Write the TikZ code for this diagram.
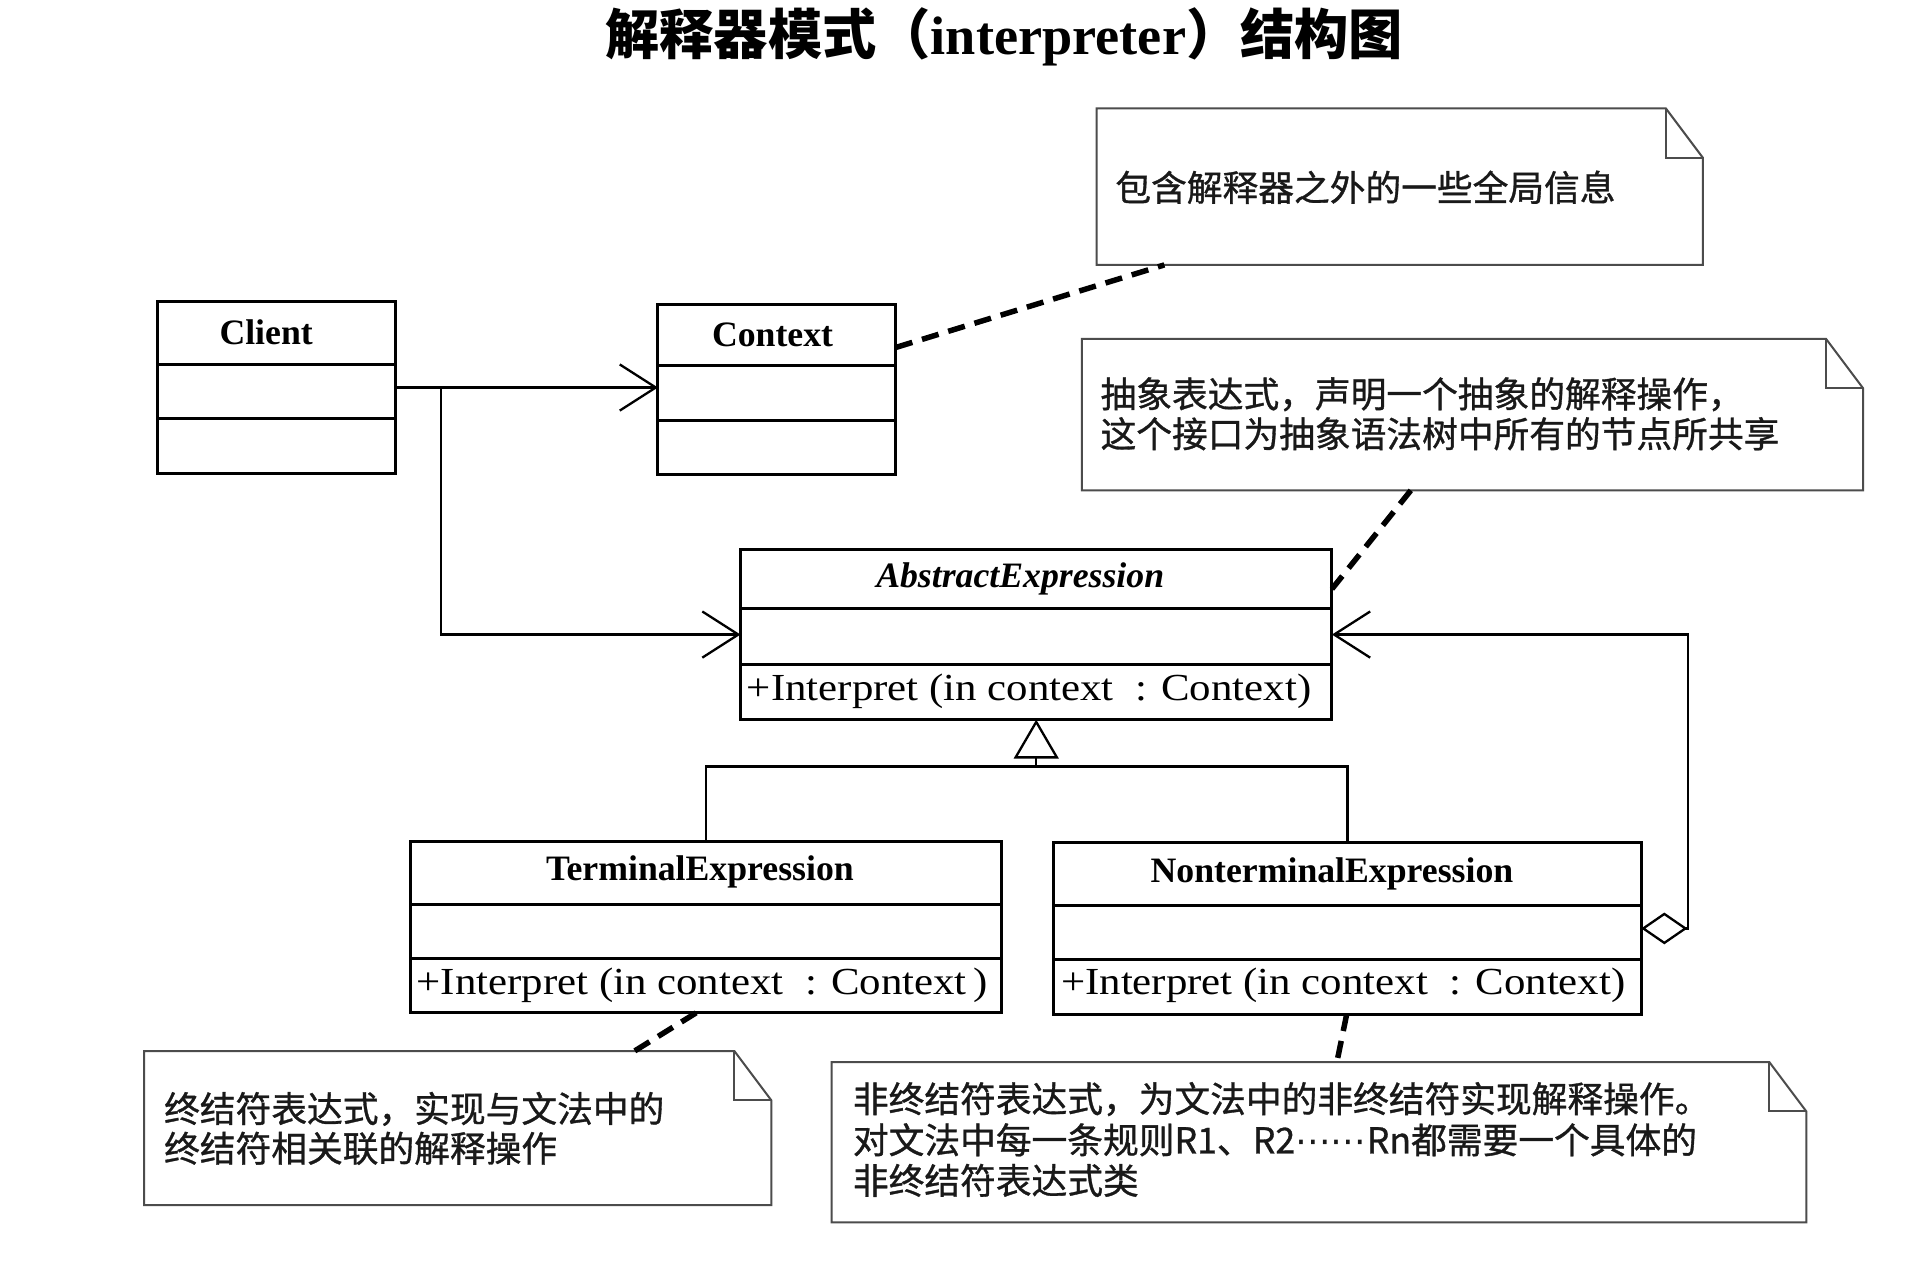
\documentclass[tikz,border=0pt]{standalone}
\usepackage{fontspec}
\usetikzlibrary{arrows.meta,calc,fit}
\setmainfont{Liberation Serif}
\newfontfamily\cjk{Noto Sans CJK SC}
\newfontfamily\cjknote[FakeBold=0.9]{Noto Sans CJK SC}
\newfontfamily\dotsfont{DejaVu Sans}
\newfontfamily\opfont[FakeStretch=1.12]{Liberation Serif}

\tikzset{
  classbox/.style={draw=black, line width=2.1pt, inner sep=0pt, outer sep=0pt},
  notebox/.style={inner sep=0pt, outer sep=0pt},
  divider/.style={draw=black, line width=2.1pt},
  noteline/.style={draw=black!70, line width=1.4pt, line join=miter},
  cname/.style={inner sep=0pt, font=\fontsize{24.75pt}{27pt}\selectfont\bfseries},
  opname/.style={inner sep=0pt, anchor=west, font=\opfont\fontsize{26.5pt}{30pt}\selectfont},
  notetext/.style={inner sep=0pt, anchor=west, text=black!90, font=\cjknote\fontsize{24.75pt}{27pt}\selectfont},
  assoc/.style={draw=black, line width=1.6pt, -{Straight Barb[length=25pt, width=32pt, line width=1.6pt]}},
  gen/.style={draw=black, line width=1.6pt, -{Triangle[open, length=27pt, width=31pt, line width=1.6pt]}},
  aggr/.style={draw=black, line width=1.6pt,
    {Diamond[open, length=32pt, width=22pt, line width=1.6pt]}-{Straight Barb[length=25pt, width=32pt, line width=1.6pt]}},
  plainline/.style={draw=black, line width=1.6pt},
  anchorline/.style={draw=black, line width=3.8pt, dash pattern=on 12pt off 7pt},
}

% two compartment separators below the class name
\newcommand\classdividers[3]{%
  \draw[divider] ($(#1.north west)+(0,#2)$) -- ($(#1.north east)+(0,#2)$);
  \draw[divider] ($(#1.north west)+(0,#3)$) -- ($(#1.north east)+(0,#3)$);
}
% note outline with a folded top-right corner
\newcommand\noteoutline[1]{%
  \draw[noteline] (#1.south west) -- (#1.north west) -- ($(#1.north east)+(-30,0)$)
    -- ($(#1.north east)+(0,40)$) -- (#1.south east) -- cycle;
  \draw[noteline] ($(#1.north east)+(-30,0)$) -- ($(#1.north east)+(-30,40)$)
    -- ($(#1.north east)+(0,40)$);
}

\begin{document}
\begin{tikzpicture}[x=0.3mm, y=-0.3mm]
\useasboundingbox[fill=white] (0,0) rectangle (1568,1032);

% title
\node[inner sep=0pt, font=\fontsize{37.6pt}{40pt}\selectfont] (title) at (815,30)
  {{\cjk\bfseries 解释器模式（}{\bfseries interpreter}{\cjk\bfseries ）结构图}};

% classes
\node[classbox, fit={(128,245) (321,384)}] (client) {};
\classdividers{client}{51}{95}
\node[cname] (clientname) at (216,270) {Client};

\node[classbox, fit={(534,247) (727,385)}] (ctx) {};
\classdividers{ctx}{50}{94}
\node[cname] (ctxname) at (627,272) {Context};

\node[classbox, fit={(601,446) (1081,584)}] (ae) {};
\classdividers{ae}{48}{93}
\node[cname, font=\fontsize{24.75pt}{27pt}\selectfont\bfseries\itshape] (aename) at (828,470) {AbstractExpression};
\node[opname] (aeop) at (606,561) {+Interpret (in context~~: Context)};

\node[classbox, fit={(333,683) (813,822)}] (te) {};
\classdividers{te}{51}{95}
\node[cname] (tename) at (568,708) {TerminalExpression};
\node[opname] (teop) at (338,800) {+Interpret (in context~~: Context\,)};

\node[classbox, fit={(855,684) (1332,823)}] (nt) {};
\classdividers{nt}{51}{95}
\node[cname] (ntname) at (1081,709) {NonterminalExpression};
\node[opname] (ntop) at (861,800) {+Interpret (in context~~: Context)};

% notes
\node[notebox, fit={(890,88) (1382,215)}] (note1) {};
\noteoutline{note1}
\node[notetext] (note1a) at (905,152) {包含解释器之外的一些全局信息};

\node[notebox, fit={(878,275) (1512,398)}] (note2) {};
\noteoutline{note2}
\node[notetext] (note2a) at (893,320) {抽象表达式，声明一个抽象的解释操作，};
\node[notetext] (note2b) at (893,352) {这个接口为抽象语法树中所有的节点所共享};

\node[notebox, fit={(117,853) (626,978)}] (note3) {};
\noteoutline{note3}
\node[notetext] (note3a) at (133,900) {终结符表达式，实现与文法中的};
\node[notetext] (note3b) at (133,932) {终结符相关联的解释操作};

\node[notebox, fit={(675,862) (1466,992)}] (note4) {};
\noteoutline{note4}
\node[notetext] (note4a) at (692,892) {非终结符表达式，为文法中的非终结符实现解释操作。};
\node[notetext] (note4b) at (692,925) {对文法中每一条规则R1、R2{\dotsfont ⋯⋯}Rn都需要一个具体的};
\node[notetext] (note4c) at (692,958) {非终结符表达式类};

% associations
\draw[assoc] (client.east) -- (client.east -| ctx.west);
\draw[assoc] ($(client.east)+(37,0)$) |- (ae.west);
\draw[aggr] (nt.east) -- ++(38,0) |- (ae.east);

% generalization
\coordinate (join) at ($(ae.south)+(0,38)$);
\draw[plainline] (te.north) |- (join) -| (nt.north);
\draw[gen] (join) -- (ae.south);

% note anchors
\draw[anchorline] ($(ctx.north east)+(0,35)$) -- ($(note1.south west)+(55,0)$);
\draw[anchorline] ($(note2.south west)+(267,0)$) -- ($(ae.north east)+(0,32)$);
\draw[anchorline] ($(te.south west)+(232,0)$) -- ($(note3.north west)+(398,0)$);
\draw[anchorline] ($(nt.south west)+(238,0)$) -- ($(note4.north west)+(410,0)$);
\end{tikzpicture}
\end{document}
